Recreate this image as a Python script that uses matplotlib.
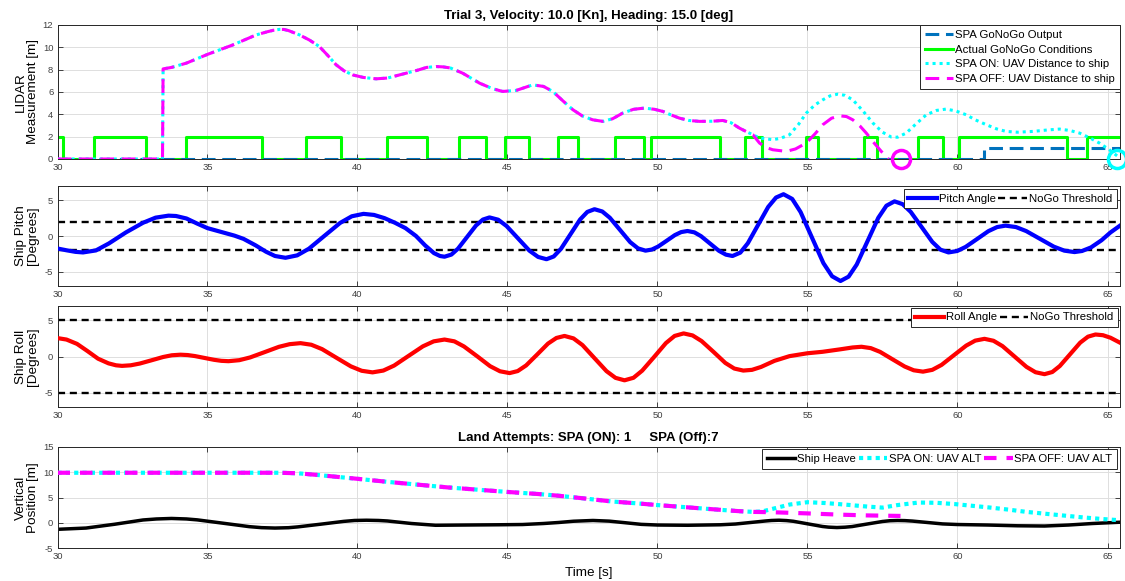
import matplotlib
matplotlib.use("Agg")
import matplotlib.pyplot as plt

plt.rcParams['font.family'] = ['Liberation Sans', 'DejaVu Sans']
plt.rcParams['axes.unicode_minus'] = False

########################### Data ##############################
x_ticks = [30, 35, 40, 45, 50, 55, 60, 65]

# top panel: go / no-go (step signals)
go_t = [30.0, 30.18, 31.22, 32.96, 34.29, 36.81, 38.27, 39.46, 40.99, 42.32, 43.38,
        44.27, 44.93, 45.71, 46.69, 47.36, 48.58, 49.54, 49.79, 52.07, 52.92, 53.49,
        54.96, 55.36, 56.88, 57.33, 58.69, 59.51, 60.04, 63.66, 64.32, 65.4]
go_v = [2, 0, 2, 0, 2, 0, 2, 0, 2, 0, 2, 0, 2, 0, 2, 0, 2, 0, 2, 0, 2, 0,
        2, 0, 2, 0, 2, 0, 2, 0, 2, 2]
spa_t = [30.0, 60.88, 65.4]
spa_v = [0, 1, 1]

# top panel: UAV distance to ship (shared part, then split)
dist_t = [30.0, 33.5, 33.52, 33.8, 34.29, 35.01, 35.84, 36.62, 37.0, 37.2, 37.4, 37.55,
          37.7, 38.07, 38.4, 38.73, 39.0, 39.29, 39.55, 39.84, 40.2, 40.62, 41.0, 41.4,
          42.0, 42.3, 42.62, 42.85, 43.1, 43.51, 44.07, 44.5, 44.84, 45.3, 45.84, 46.2,
          46.51, 46.85, 47.18, 47.5, 47.84, 48.18, 48.5, 48.84, 49.2, 49.57, 49.9,
          50.18, 50.45, 50.73, 51.05, 51.4, 51.8, 52.18, 52.45, 52.73, 53.0, 53.18]
dist_v = [0, 0, 8.07, 8.2, 8.58, 9.38, 10.21, 11.11, 11.4, 11.53, 11.61, 11.6,
          11.5, 11.11, 10.65, 10.07, 9.3, 8.43, 7.9, 7.53, 7.3, 7.18, 7.25, 7.53,
          7.95, 8.2, 8.28, 8.25, 8.15, 7.68, 6.79, 6.3, 6.05, 6.15, 6.64, 6.5,
          6.05, 5.2, 4.41, 3.85, 3.51, 3.37, 3.6, 4.11, 4.45, 4.56, 4.45,
          4.26, 3.95, 3.66, 3.45, 3.37, 3.38, 3.45, 3.25, 2.77, 2.4, 2.17]
on_dist_t = [53.4, 53.84, 54.1, 54.4, 54.7, 54.96, 55.25, 55.51, 55.75, 56.01, 56.25,
             56.51, 56.85, 57.18, 57.5, 57.79, 58.0, 58.29, 58.6, 58.96, 59.3, 59.62,
             59.95, 60.29, 60.6, 60.96, 61.3, 61.62, 62.0, 62.51, 63.0, 63.4, 63.75,
             64.07, 64.4, 64.73, 65.05, 65.34]
on_dist_v = [1.88, 1.73, 1.85, 2.17, 3.1, 4.11, 4.85, 5.3, 5.65, 5.81, 5.7,
             5.3, 4.3, 3.22, 2.4, 1.97, 1.95, 2.32, 3.1, 3.96, 4.35, 4.47,
             4.3, 3.96, 3.5, 3.07, 2.7, 2.47, 2.4, 2.47, 2.6, 2.68, 2.55,
             2.32, 1.9, 1.43, 0.85, 0.24]
off_dist_t = [53.4, 53.6, 53.84, 54.29, 54.6, 54.96, 55.25, 55.51, 55.8, 56.07, 56.3,
              56.51, 56.75, 56.96, 57.2, 57.46, 57.7]
off_dist_v = [1.43, 1.05, 0.83, 0.68, 0.9, 1.43, 2.25, 3.07, 3.65, 3.87, 3.8,
              3.51, 2.95, 2.32, 1.5, 0.68, 0.0]
land_on = (65.3, 0.0)
land_off = (58.12, 0.0)

# ship pitch
pitch_t = [30.0, 30.3, 30.6, 30.85, 31.28, 31.71, 32.28, 32.85, 33.27, 33.7, 33.95,
           34.3, 34.65, 35.0, 35.3, 35.6, 35.9, 36.2, 36.6, 36.95, 37.25, 37.6,
           37.99, 38.38, 38.9, 39.42, 39.81, 40.2, 40.55, 40.9, 41.25, 41.6, 41.95,
           42.25, 42.55, 42.75, 42.9, 43.13, 43.35, 43.65, 43.95, 44.18, 44.4, 44.69,
           44.97, 45.35, 45.73, 46.02, 46.3, 46.54, 46.78, 47.1, 47.42, 47.66, 47.9,
           48.16, 48.41, 48.75, 49.09, 49.35, 49.6, 49.81, 50.02, 50.3, 50.58, 50.79,
           51.0, 51.23, 51.45, 51.75, 52.05, 52.28, 52.5, 52.76, 53.01, 53.35, 53.69,
           53.95, 54.2, 54.49, 54.77, 55.15, 55.53, 55.82, 56.1, 56.37, 56.64, 57.0,
           57.36, 57.63, 57.9, 58.17, 58.44, 58.8, 59.16, 59.43, 59.7, 59.99, 60.27,
           60.65, 61.03, 61.32, 61.6, 61.95, 62.29, 62.75, 63.21, 63.56, 63.9, 64.15,
           64.45, 64.8, 65.1, 65.4]
pitch_v = [-1.75, -2.0, -2.22, -2.3, -2.02, -1.05, 0.5, 1.85, 2.57, 2.85, 2.8,
           2.45, 1.75, 1.1, 0.75, 0.4, 0.05, -0.4, -1.3, -2.2, -2.8, -3.05,
           -2.71, -1.78, 0.03, 1.83, 2.76, 3.1, 2.95, 2.5, 1.85, 1.1, 0.0,
           -1.3, -2.4, -2.8, -2.9, -2.6, -1.77, -0.15, 1.47, 2.3, 2.6, 2.28,
           1.39, -0.33, -2.05, -2.93, -3.25, -2.87, -1.81, 0.25, 2.31, 3.37, 3.75,
           3.43, 2.56, 0.85, -0.86, -1.73, -2.05, -1.9, -1.48, -0.68, 0.13, 0.55,
           0.7, 0.51, -0.02, -1.05, -2.08, -2.61, -2.8, -2.33, -1.02, 1.53, 4.07,
           5.38, 5.85, 5.19, 3.35, -0.23, -3.8, -5.64, -6.3, -5.69, -4.0, -0.73,
           2.55, 4.24, 4.85, 4.46, 3.38, 1.28, -0.83, -1.91, -2.3, -2.1, -1.53,
           -0.43, 0.68, 1.25, 1.45, 1.25, 0.69, -0.4, -1.49, -2.05, -2.25, -2.1,
           -1.6, -0.6, 0.5, 1.4]
pitch_limit = 2.0

# ship roll
roll_t = [30.0, 30.3, 30.65, 31.0, 31.35, 31.7, 31.95, 32.15, 32.44, 32.74, 33.13,
          33.52, 33.81, 34.1, 34.34, 34.58, 34.9, 35.22, 35.46, 35.7, 36.06, 36.42,
          36.9, 37.38, 37.74, 38.1, 38.46, 38.82, 39.3, 39.78, 40.14, 40.5, 40.86,
          41.22, 41.7, 42.18, 42.54, 42.9, 43.23, 43.55, 43.99, 44.42, 44.75, 45.07,
          45.34, 45.62, 45.99, 46.35, 46.63, 46.9, 47.2, 47.5, 47.9, 48.3, 48.6,
          48.9, 49.2, 49.49, 49.89, 50.28, 50.57, 50.87, 51.17, 51.47, 51.87, 52.26,
          52.56, 52.86, 53.15, 53.45, 53.9, 54.4, 55.0, 55.5, 56.1, 56.5, 56.8,
          57.11, 57.42, 57.83, 58.24, 58.54, 58.85, 59.16, 59.47, 59.88, 60.29, 60.59,
          60.9, 61.2, 61.5, 61.9, 62.3, 62.6, 62.9, 63.16, 63.41, 63.75, 64.09,
          64.35, 64.6, 64.85, 65.1, 65.4]
roll_v = [2.55, 2.35, 1.75, 0.75, -0.3, -0.95, -1.22, -1.3, -1.22, -0.98, -0.53,
          -0.07, 0.17, 0.25, 0.2, 0.06, -0.2, -0.46, -0.6, -0.65, -0.51, -0.13,
          0.6, 1.34, 1.71, 1.85, 1.63, 1.02, -0.18, -1.37, -1.98, -2.2, -1.95,
          -1.26, 0.08, 1.41, 2.1, 2.35, 2.1, 1.39, 0.03, -1.34, -2.05, -2.3,
          -2.02, -1.24, 0.28, 1.79, 2.57, 2.85, 2.51, 1.58, -0.23, -2.03, -2.96,
          -3.3, -2.95, -1.96, -0.05, 1.86, 2.85, 3.2, 2.92, 2.14, 0.63, -0.89,
          -1.67, -1.95, -1.85, -1.45, -0.6, 0.05, 0.45, 0.65, 1.0, 1.25, 1.35,
          1.16, 0.64, -0.38, -1.39, -1.91, -2.1, -1.85, -1.16, 0.18, 1.51, 2.2,
          2.45, 2.18, 1.44, 0.0, -1.44, -2.18, -2.45, -2.15, -1.32, 0.3, 1.92,
          2.75, 3.05, 2.95, 2.6, 1.95]
roll_limit = 5.0

# vertical positions
heave_t = [30.0, 30.95, 31.9, 32.85, 33.3, 33.8, 34.3, 34.66, 35.53, 36.39, 36.8, 37.25,
           37.7, 38.01, 38.78, 39.54, 39.9, 40.3, 40.7, 41.0, 41.8, 42.6, 43.6, 44.7,
           45.5, 46.2, 46.7, 47.2, 47.85, 48.39, 48.93, 49.46, 50.0, 51.0, 52.1, 52.6,
           53.1, 53.6, 53.8, 54.05, 54.3, 54.53, 55.02, 55.5, 55.7, 55.98, 56.25,
           56.49, 56.99, 57.5, 57.75, 58.0, 58.25, 58.5, 59.0, 59.5, 60.0, 61.0,
           62.0, 62.9, 63.7, 64.5, 65.4]
heave_v = [-1.3, -1.05, -0.3, 0.55, 0.75, 0.85, 0.75, 0.57, -0.1, -0.77, -0.97, -1.05,
           -0.98, -0.82, -0.28, 0.27, 0.45, 0.5, 0.45, 0.35, -0.15, -0.5, -0.45, -0.4,
           -0.35, -0.15, 0.05, 0.3, 0.45, 0.32, 0.0, -0.32, -0.45, -0.5, -0.4, -0.25,
           0.05, 0.35, 0.45, 0.5, 0.43, 0.29, -0.23, -0.74, -0.87, -0.95, -0.88,
           -0.75, -0.25, 0.25, 0.4, 0.45, 0.42, 0.33, 0.05, -0.23, -0.35, -0.45,
           -0.6, -0.65, -0.45, -0.15, 0.1]
alt_t = [30.0, 31.0, 32.0, 33.0, 34.0, 35.0, 36.0, 37.0, 37.4, 38.0, 38.6, 39.3, 40.0,
         41.0, 42.0, 43.0, 44.0, 45.0, 46.0, 46.7, 47.5, 48.5, 49.3, 50.0, 51.0, 52.0,
         52.7, 53.2]
alt_v = [9.9, 9.9, 9.9, 9.9, 9.9, 9.9, 9.9, 9.9, 9.9, 9.8, 9.5, 9.1, 8.7,
         8.1, 7.55, 7.0, 6.55, 6.1, 5.7, 5.35, 4.85, 4.2, 3.85, 3.5, 3.05, 2.6,
         2.3, 2.15]
on_alt_t = [53.5, 53.9, 54.4, 55.0, 55.6, 56.3, 57.0, 57.5, 58.0, 58.7, 59.3, 59.9,
            60.5, 61.1, 61.7, 62.3, 62.9, 63.5, 64.2, 64.8, 65.4]
on_alt_v = [2.25, 2.85, 3.6, 4.07, 3.9, 3.57, 3.2, 3.0, 3.5, 4.0, 3.95, 3.7,
            3.35, 3.0, 2.6, 2.15, 1.8, 1.45, 1.05, 0.75, 0.5]
off_alt_t = [53.9, 55.0, 56.1, 57.0, 58.1]
off_alt_v = [2.07, 1.85, 1.6, 1.45, 1.35]

########################### Style ##############################
C_SPA = '#0072BD'
C_GREEN = '#00FF00'
C_CYAN = '#00FFFF'
C_MAG = '#FF00FF'
GRID = '#dedede'
AX_COL = '#262626'
LABEL_X = -0.0175


def style_axes(ax, ylim, yticks):
    ax.set_xlim(30, 65.4)
    ax.set_ylim(*ylim)
    ax.set_xticks(x_ticks)
    ax.set_yticks(yticks)
    ax.grid(True, color=GRID, linewidth=0.7)
    ax.set_axisbelow(True)
    ax.tick_params(direction='in', top=True, right=True, length=3.5, width=0.6,
                   labelsize=6.8, labelcolor='#404040', color=AX_COL, pad=3)
    for s in ax.spines.values():
        s.set_color(AX_COL)
        s.set_linewidth(0.7)


def set_ylab(ax, text):
    ax.set_ylabel(text, fontsize=9.7, linespacing=1.0)
    ax.yaxis.set_label_coords(LABEL_X, 0.5)


def add_legend(ax, handles, labels, ncol=1, pad=0.0, spacing=0.42):
    leg = ax.legend(handles, labels, loc='upper right', ncol=ncol, fontsize=8.2,
                    handlelength=2.5, handletextpad=0.15, columnspacing=0.25,
                    labelspacing=spacing, borderpad=0.42, borderaxespad=pad,
                    fancybox=False, framealpha=1, edgecolor=AX_COL)
    leg.get_frame().set_linewidth(0.7)
    return leg


fig = plt.figure(figsize=(11.25, 5.81), dpi=100)
L, W = 57.5 / 1125, (1119.5 - 57.5) / 1125


def px_axes(top, bottom):
    return fig.add_axes([L, 1 - bottom / 581, W, (bottom - top) / 581])


###########################  LIDAR  ##############################
ax1 = px_axes(25, 159)
h_go, = ax1.plot(go_t, go_v, color=C_GREEN, lw=2.2, drawstyle='steps-post', zorder=2)
h_spa, = ax1.plot(spa_t, spa_v, color=C_SPA, lw=2.2, drawstyle='steps-post',
                  dashes=(4.5, 2.2), zorder=3)
h_on, = ax1.plot(dist_t + on_dist_t, dist_v + on_dist_v, color=C_CYAN, lw=2.2,
                 dashes=(1, 1.3), zorder=4)
h_off, = ax1.plot(dist_t + off_dist_t, dist_v + off_dist_v, color=C_MAG, lw=2.2,
                  dashes=(4.5, 2.5), zorder=5)
ax1.plot(*land_off, marker='o', ms=13, mfc='none', mec=C_MAG, mew=2.5, clip_on=False, zorder=6)
ax1.plot(*land_on, marker='o', ms=13, mfc='none', mec=C_CYAN, mew=2.5, clip_on=False, zorder=6)
style_axes(ax1, (0, 12), [0, 2, 4, 6, 8, 10, 12])
set_ylab(ax1, 'LIDAR\nMeasurement [m]')
ax1.set_title('Trial 3, Velocity: 10.0 [Kn], Heading: 15.0 [deg]', fontsize=9.5,
              fontweight='bold', pad=4)
add_legend(ax1, [h_spa, h_go, h_on, h_off],
           ['SPA GoNoGo Output', 'Actual GoNoGo Conditions',
            'SPA ON: UAV Distance to ship', 'SPA OFF: UAV Distance to ship'])

###########################  Pitch  ##############################
ax2 = px_axes(186, 286)
h_p, = ax2.plot(pitch_t, pitch_v, color='#0000FF', lw=3.0, zorder=3)
h_thr, = ax2.plot([30, 65.4], [pitch_limit, pitch_limit], color='black', lw=1.7,
                  dashes=(3, 2), zorder=2)
ax2.plot([30, 65.4], [-pitch_limit, -pitch_limit], color='black', lw=1.7,
         dashes=(3, 2), zorder=2)
style_axes(ax2, (-7, 7), [-5, 0, 5])
set_ylab(ax2, 'Ship Pitch\n[Degrees]')
add_legend(ax2, [h_p, h_thr], ['Pitch Angle', 'NoGo Threshold'], ncol=2, pad=0.25)

###########################  Roll  ##############################
ax3 = px_axes(306, 407)
h_r, = ax3.plot(roll_t, roll_v, color='#FF0000', lw=3.0, zorder=3)
h_thr2, = ax3.plot([30, 65.4], [roll_limit, roll_limit], color='black', lw=1.7,
                   dashes=(3, 2), zorder=2)
ax3.plot([30, 65.4], [-roll_limit, -roll_limit], color='black', lw=1.7,
         dashes=(3, 2), zorder=2)
style_axes(ax3, (-7, 7), [-5, 0, 5])
set_ylab(ax3, 'Ship Roll\n[Degrees]')
add_legend(ax3, [h_r, h_thr2], ['Roll Angle', 'NoGo Threshold'], ncol=2, pad=0.15)

###########################  Vertical  ##############################
ax4 = px_axes(447, 548)
h_h, = ax4.plot(heave_t, heave_v, color='black', lw=2.5, zorder=2)
h_on2, = ax4.plot(alt_t + on_alt_t, alt_v + on_alt_v, color=C_CYAN, lw=3.0,
                  dashes=(1, 1.0), zorder=3)
h_off2, = ax4.plot(alt_t + off_alt_t, alt_v + off_alt_v, color=C_MAG, lw=3.0,
                   dashes=(3.0, 2.4), zorder=4)
style_axes(ax4, (-5, 15), [-5, 0, 5, 10, 15])
set_ylab(ax4, 'Vertical\nPosition [m]')
ax4.set_xlabel('Time [s]', fontsize=9.7, labelpad=4)
ax4.set_title('Land Attempts: SPA (ON): 1     SPA (Off):7', fontsize=9.5,
              fontweight='bold', pad=4)
add_legend(ax4, [h_h, h_on2, h_off2],
           ['Ship Heave', 'SPA ON: UAV ALT', 'SPA OFF: UAV ALT'], ncol=3, pad=0.2)

fig.savefig('out.png', dpi=100)
